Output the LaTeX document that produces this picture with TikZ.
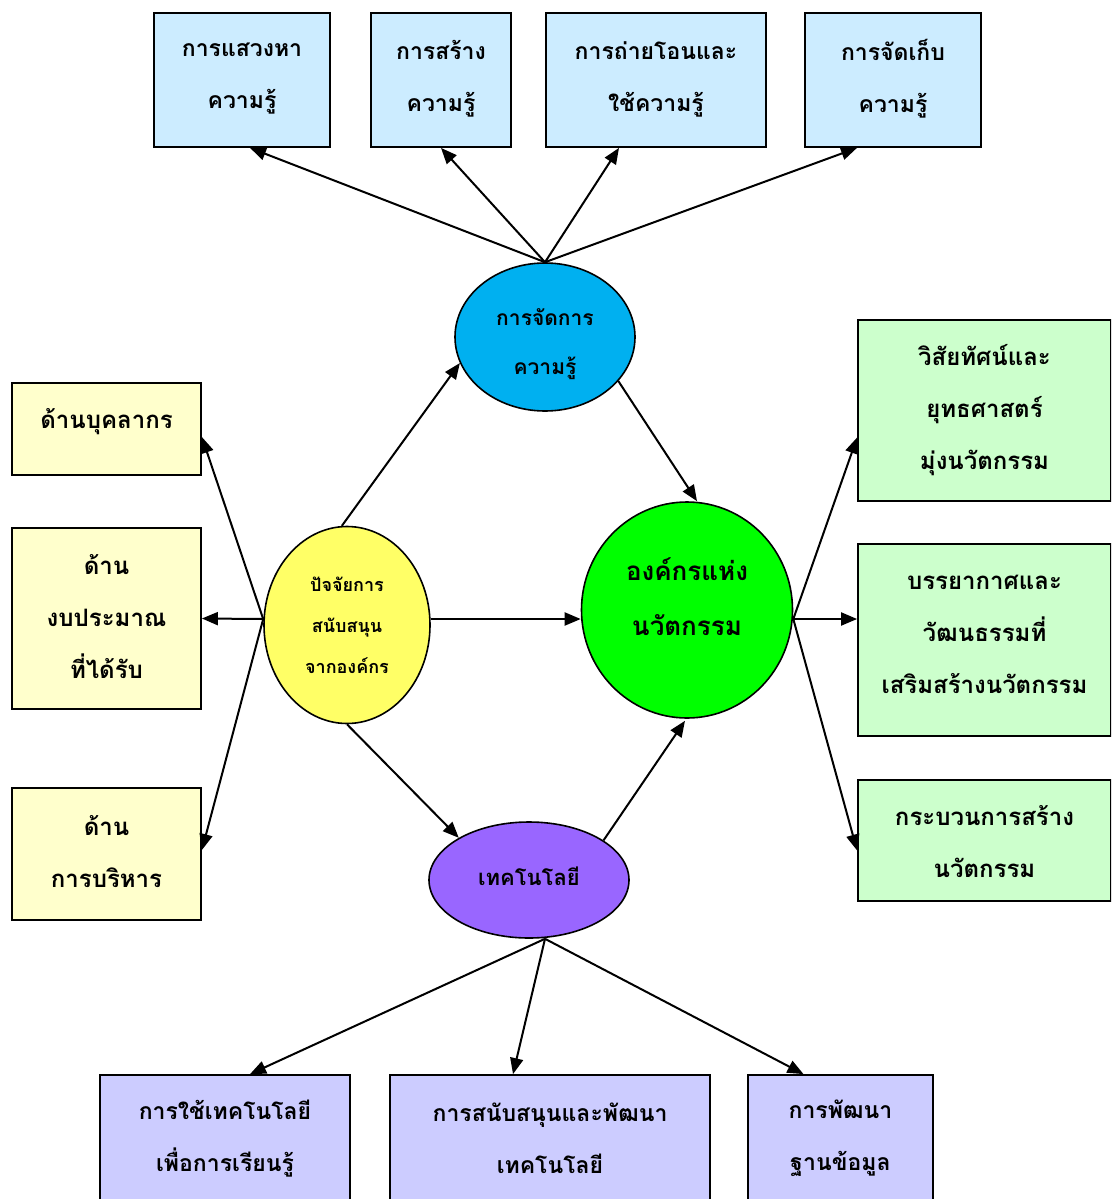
\documentclass[tikz,border=0pt]{standalone}
\usepackage{fontspec}
\newfontfamily\thaifont[Script=Thai]{Loma}
\usetikzlibrary{arrows.meta,calc,shapes.geometric}

\definecolor{topfill}{HTML}{CCECFF}
\definecolor{leftfill}{HTML}{FFFFCC}
\definecolor{rightfill}{HTML}{CCFFCC}
\definecolor{botfill}{HTML}{CCCCFF}
\definecolor{kmfill}{HTML}{00B0F0}
\definecolor{supfill}{HTML}{FFFF66}
\definecolor{innofill}{HTML}{00FF00}
\definecolor{techfill}{HTML}{9966FF}

\begin{document}
\begin{tikzpicture}[x=1pt,y=-1pt,
  box/.style={draw=black, line width=1.8pt, inner sep=0pt},
  topbox/.style={box, fill=topfill, minimum height=134pt},
  leftbox/.style={box, fill=leftfill, minimum width=189pt},
  rightbox/.style={box, fill=rightfill, minimum width=253pt},
  botbox/.style={box, fill=botfill, minimum height=160pt},
  oval/.style={ellipse, draw=black, line width=1.6pt, inner sep=0pt},
  txt/.style={inner sep=0pt, align=center,
    font=\thaifont\bfseries\fontsize{23}{52}\selectfont},
  sidetxt/.style={txt, font=\thaifont\bfseries\fontsize{24}{52}\selectfont},
  arr/.style={line width=2pt, -{Triangle[length=16pt,width=13pt]}}
]
\clip (0,0) rectangle (1111,1199);
\fill[white] (0,0) rectangle (1111,1199);

% central ellipses
\node[oval, fill=kmfill, minimum width=180pt, minimum height=148pt] (km) at (545,337) {};
\node[txt, font=\thaifont\bfseries\fontsize{21}{49}\selectfont] (kmt) at ($(km)+(0,7)$) {การจัดการ\\ความรู้};
\node[oval, fill=supfill, minimum width=166pt, minimum height=197pt] (sup) at (347,625) {};
\node[txt, font=\thaifont\bfseries\fontsize{18}{41}\selectfont] (supt) at ($(sup)+(0,0)$) {ปัจจัยการ\\สนับสนุน\\จากองค์กร};
\node[oval, fill=innofill, minimum width=211pt, minimum height=216pt] (inno) at (687,610) {};
\node[txt, font=\thaifont\bfseries\fontsize{26}{55}\selectfont] (innot) at ($(inno)+(0,-13)$) {องค์กรแห่ง\\นวัตกรรม};
\node[oval, fill=techfill, minimum width=200pt, minimum height=116pt] (tech) at (529,880) {};
\node[txt, font=\thaifont\bfseries\fontsize{22}{50}\selectfont] (techt) at ($(tech)+(0,-4)$) {เทคโนโลยี};

% knowledge management activities
\node[topbox, minimum width=176pt] (t1) at (242,80) {};
\node[topbox, minimum width=140pt] (t2) at (441,80) {};
\node[topbox, minimum width=220pt] (t3) at (656,80) {};
\node[topbox, minimum width=176pt] (t4) at (893,80) {};
\node[txt] (t1t) at ($(t1)+(0,-1)$) {การแสวงหา\\ความรู้};
\node[txt] (t2t) at ($(t2)+(0,-1)$) {การสร้าง\\ความรู้};
\node[txt] (t3t) at ($(t3)+(0,-1)$) {การถ่ายโอนและ\\ใช้ความรู้};
\node[txt] (t4t) at ($(t4)+(0,-1)$) {การจัดเก็บ\\ความรู้};

% organisational support factors
\node[leftbox, minimum height=92pt] (l1) at (106.5,429) {};
\node[leftbox, minimum height=181pt] (l2) at (106.5,618.5) {};
\node[leftbox, minimum height=132pt] (l3) at (106.5,854) {};
\node[sidetxt] (l1t) at ($(l1)+(0,-7)$) {ด้านบุคลากร};
\node[sidetxt] (l2t) at ($(l2)+(0,-2)$) {ด้าน\\งบประมาณ\\ที่ได้รับ};
\node[sidetxt] (l3t) at ($(l3)+(0,-2)$) {ด้าน\\การบริหาร};

% innovative organisation components
\node[rightbox, minimum height=181pt] (r1) at (984.5,410.5) {};
\node[rightbox, minimum height=192pt] (r2) at (984.5,640) {};
\node[rightbox, minimum height=121pt] (r3) at (984.5,840.5) {};
\node[sidetxt] (r1t) at ($(r1)+(0,0)$) {วิสัยทัศน์และ\\ยุทธศาสตร์\\มุ่งนวัตกรรม};
\node[sidetxt] (r2t) at ($(r2)+(0,-6)$) {บรรยากาศและ\\วัฒนธรรมที่\\เสริมสร้างนวัตกรรม};
\node[sidetxt] (r3t) at ($(r3)+(0,1)$) {กระบวนการสร้าง\\นวัตกรรม};

% technology
\node[botbox, minimum width=250pt] (b1) at (225,1155) {};
\node[botbox, minimum width=320pt] (b2) at (550,1155) {};
\node[botbox, minimum width=185pt] (b3) at (840.5,1155) {};
\node[txt] (b1t) at ($(b1.north)+(0,64)$) {การใช้เทคโนโลยี\\เพื่อการเรียนรู้};
\node[txt] (b2t) at ($(b2.north)+(0,64)$) {การสนับสนุนและพัฒนา\\เทคโนโลยี};
\node[txt] (b3t) at ($(b3.north)+(0,64)$) {การพัฒนา\\ฐานข้อมูล};

% connectors
\draw[arr] (km.north) -- ($(t1.south)+(8,0)$);
\draw[arr] (km.north) -- (t2.south);
\draw[arr] (km.north) -- ($(t3.south)+(-37,0)$);
\draw[arr] (km.north) -- ($(t4.south)+(-36,0)$);
\draw[arr] (km.-31) -- ($(inno.north)+(10,0)$);

\draw[arr] (sup.93) -- (km.197);
\draw[arr] ($(sup.east)+(0,-6)$) -- (inno.west |- {$(sup.east)+(0,-6)$});
\draw[arr] (sup.south) -- (tech.149);
\draw[arr] ($(sup.west)+(0,-6)$) -- ($(l1.east)+(0,8)$);
\draw[arr] ($(sup.west)+(0,-6)$) -- (l2.east);
\draw[arr] ($(sup.west)+(0,-6)$) -- ($(l3.east)+(0,-4)$);

\draw[arr] (tech.28) -- ($(inno.south)+(-2,2)$);
\draw[arr] ($(tech.south)+(16,0)$) -- ($(b1.north)+(25,0)$);
\draw[arr] ($(tech.south)+(16,0)$) -- ($(b2.north)+(-37,0)$);
\draw[arr] ($(tech.south)+(16,0)$) -- ($(b3.north)+(-37,0)$);

\draw[arr] ($(inno.east)+(0,9)$) -- ($(r1.west)+(0,27)$);
\draw[arr] ($(inno.east)+(0,9)$) -- ($(r2.west)+(0,-21)$);
\draw[arr] ($(inno.east)+(0,9)$) -- ($(r3.west)+(0,10)$);
\end{tikzpicture}
\end{document}
